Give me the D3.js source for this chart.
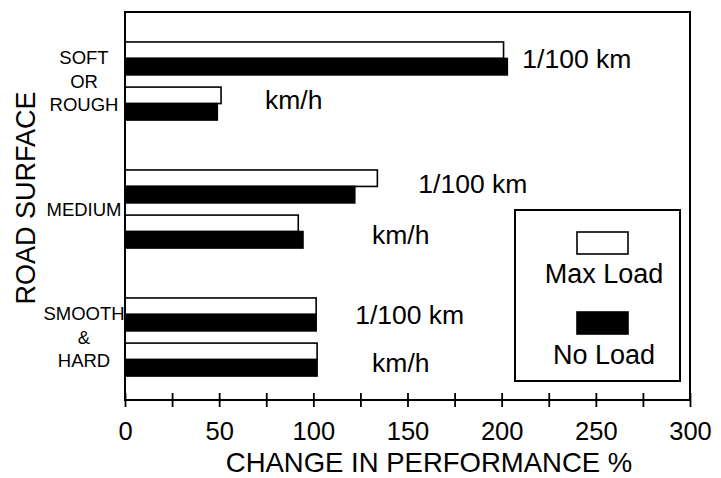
<!DOCTYPE html>
<html>
<head>
<meta charset="utf-8">
<script src="https://cdn.jsdelivr.net/npm/d3@7"></script>
<style>
  body { margin: 0; background: #fff; }
  text { font-family: "Liberation Sans", Arial, sans-serif; fill: #000; }
</style>
</head>
<body>
<div id="chart"></div>
<script>

// data
var surfaces = ["SOFT OR ROUGH", "MEDIUM", "SMOOTH & HARD"];
var surfaceLines = [["SOFT", "OR", "ROUGH"], ["MEDIUM"], ["SMOOTH", "&", "HARD"]];
var measures = ["1/100 km", "km/h"];
var loads = ["Max Load", "No Load"];
var maxLoad = [[201, 51], [134, 92], [101.5, 102]];   // per surface: [1/100 km, km/h]
var noLoad  = [[203, 49], [122, 94.5], [101.5, 102]];
var xTicks = [0, 25, 50, 75, 100, 125, 150, 175, 200, 225, 250, 275, 300];

// hand placement of the unit labels (px from end of the longer bar / from pair centre)
var labelDx = [[15, 44], [41, 69], [39, 55]];
var labelDy = [[9.5, 5.5], [6.5, 12.5], [9.5, 12]];

var width = 721, height = 478;
var plotLeft = 125, plotRight = 690, plotTop = 12, plotBottom = 400;

var svg = d3.select("#chart")
    .append("svg")
    .attr("width", width)
    .attr("height", height);

var x = d3.scaleLinear().domain([0, 300]).range([plotLeft, plotRight]);

var yGroup = d3.scaleBand().domain(surfaces).range([17, 401])
    .paddingInner(0.39).paddingOuter(0.195);
var yPair = d3.scaleBand().domain(measures).range([0, yGroup.bandwidth()])
    .paddingInner(0.27);
var yLoad = d3.scaleBand().domain(loads).range([0, yPair.bandwidth()]);

// flatten into rows for drawing
var rows = [];
surfaces.forEach(function(s, i) {
  measures.forEach(function(m, j) {
    rows.push({surface: s, measure: m, load: loads[0], value: maxLoad[i][j]});
    rows.push({surface: s, measure: m, load: loads[1], value: noLoad[i][j]});
  });
});

// bars
svg.selectAll("rect.bar")
    .data(rows)
    .enter().append("rect")
    .attr("class", "bar")
    .attr("x", x(0))
    .attr("y", function(d) { return yGroup(d.surface) + yPair(d.measure) + yLoad(d.load); })
    .attr("width", function(d) { return x(d.value) - x(0); })
    .attr("height", yLoad.bandwidth())
    .style("fill", function(d) { return d.load == "Max Load" ? "#fff" : "#000"; })
    .style("stroke", "#000")
    .style("stroke-width", 1.6);

// unit labels next to each pair of bars
surfaces.forEach(function(s, i) {
  measures.forEach(function(m, j) {
    var end = Math.max(maxLoad[i][j], noLoad[i][j]);
    svg.append("text")
        .attr("x", x(end) + labelDx[i][j])
        .attr("y", yGroup(s) + yPair(m) + yPair.bandwidth() / 2 + labelDy[i][j])
        .attr("font-size", "26.5px")
        .text(m);
  });
});

// frame
svg.append("rect")
    .attr("x", plotLeft)
    .attr("y", plotTop)
    .attr("width", plotRight - plotLeft)
    .attr("height", plotBottom - plotTop)
    .style("fill", "none")
    .style("stroke", "#000")
    .style("stroke-width", 2);

// x axis, ticks cross the bottom line
var xAxis = d3.axisBottom(x)
    .tickValues(xTicks)
    .tickSize(7)
    .tickFormat(function(d) { return d % 50 == 0 ? d : ""; });

var gx = svg.append("g")
    .attr("transform", "translate(0," + plotBottom + ")")
    .call(xAxis);
gx.select(".domain").remove();
gx.selectAll(".tick line")
    .attr("y1", -7)
    .style("stroke-width", 1.8);
gx.selectAll(".tick text")
    .attr("y", 40)
    .attr("dy", 0)
    .attr("font-size", "25.5px")
    .attr("font-family", "Liberation Sans, Arial, sans-serif");

// category labels
surfaces.forEach(function(s, i) {
  var lines = surfaceLines[i];
  var cy = yGroup(s) + yGroup.bandwidth() / 2;
  var t = svg.append("text")
      .attr("text-anchor", "middle")
      .attr("font-size", "18.5px");
  lines.forEach(function(l, k) {
    t.append("tspan")
        .attr("x", 84)
        .attr("y", cy + 6.5 + (k - (lines.length - 1) / 2) * 23.5)
        .text(l);
  });
});

// axis titles
svg.append("text")
    .attr("transform", "translate(35,198) rotate(-90)")
    .attr("text-anchor", "middle")
    .attr("font-size", "27px")
    .text("ROAD SURFACE");

svg.append("text")
    .attr("x", 429)
    .attr("y", 472)
    .attr("text-anchor", "middle")
    .attr("font-size", "27.5px")
    .text("CHANGE IN PERFORMANCE %");

// legend
var legend = svg.append("g");
legend.append("rect")
    .attr("x", 515).attr("y", 210)
    .attr("width", 165).attr("height", 171)
    .style("fill", "#fff")
    .style("stroke", "#000")
    .style("stroke-width", 2);

loads.forEach(function(l, i) {
  legend.append("rect")
      .attr("x", 577)
      .attr("y", 232 + i * 80)
      .attr("width", 51)
      .attr("height", 22)
      .style("fill", i == 0 ? "#fff" : "#000")
      .style("stroke", "#000")
      .style("stroke-width", 1.6);
  legend.append("text")
      .attr("x", 604)
      .attr("y", 283 + i * 81)
      .attr("text-anchor", "middle")
      .attr("font-size", "27px")
      .text(l);
});

</script>
</body>
</html>
